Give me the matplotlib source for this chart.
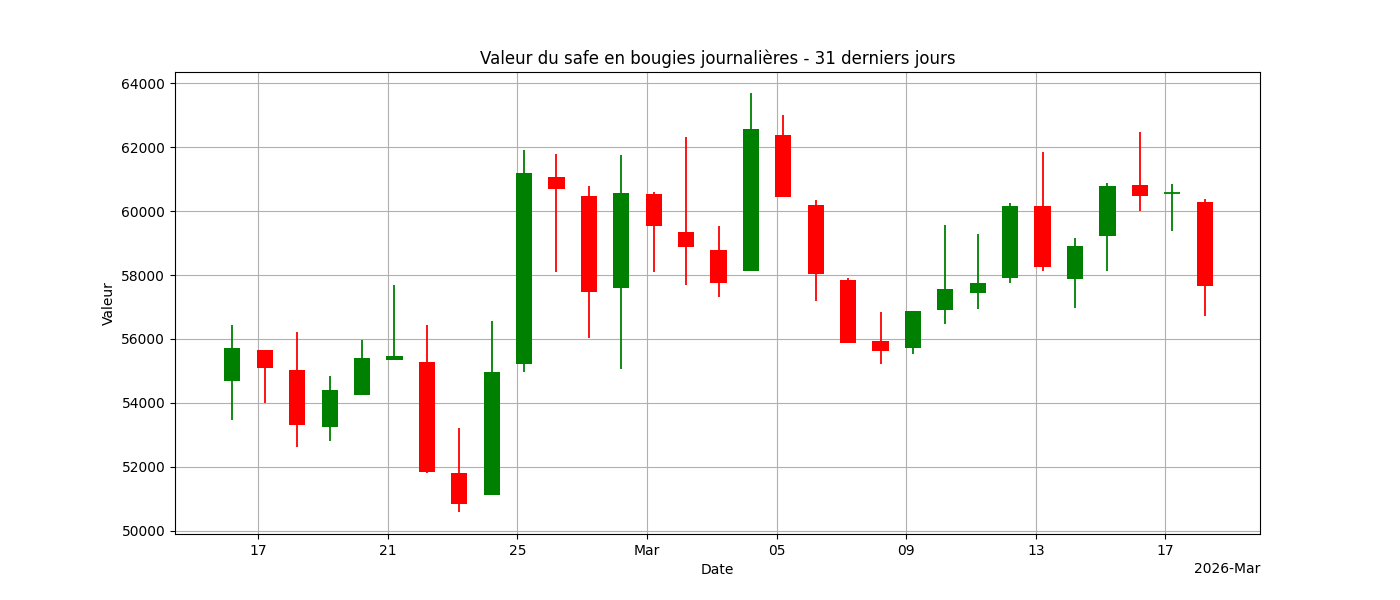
import matplotlib
matplotlib.use("Agg")
import matplotlib.pyplot as plt
import matplotlib.dates as mdates
import pandas as pd

dates = pd.date_range("2026-02-16 05:00", periods=31, freq="D")
opens  = [54688,55656,55031,53250,54250,55344,55281,51812,51125,55219,61062,60469,57594,60531,59344,58781,58125,62375,60187,57844,55937,55719,56906,57437,57906,60156,57875,59219,60812,60562,60281]
closes = [55719,55094,53312,54406,55406,55469,51844,50844,54969,61187,60687,57469,60562,59531,58875,57750,62562,60437,58031,55875,55625,56875,57562,57750,60156,58250,58906,60781,60469,60562,57656]
highs  = [56437,55656,56219,54844,55969,57688,56437,53219,56562,61906,61781,60781,61750,60594,62312,59531,63687,63000,60344,57906,56844,56875,59562,59281,60250,61844,59156,60875,62469,60844,60375]
lows   = [53469,54000,52625,52812,54250,55344,51812,50594,51125,54969,58094,56031,55062,58094,57687,57312,58125,60437,57187,55875,55219,55531,56469,56937,57750,58125,56969,58125,60000,59375,56719]

fig, ax = plt.subplots(figsize=(14, 6), dpi=100)
x = mdates.date2num(dates)
w = 0.5
for xi, o, c, h, l in zip(x, opens, closes, highs, lows):
    col = "green" if c >= o else "red"
    ax.vlines(xi, l, h, color=col, linewidth=1.3, zorder=2)
    if abs(c - o) < 1:
        ax.hlines(o, xi - w / 2, xi + w / 2, color=col, linewidth=1.3, zorder=3)
    else:
        ax.bar(xi, abs(c - o), bottom=min(o, c), width=w, color=col, zorder=3)

loc = mdates.AutoDateLocator()
ax.xaxis.set_major_locator(loc)
ax.xaxis.set_major_formatter(mdates.ConciseDateFormatter(loc))
ax.set_xlim(mdates.date2num(pd.Timestamp("2026-02-14 10:30")), mdates.date2num(pd.Timestamp("2026-03-19 22:00")))
ax.set_ylim(49900, 64350)
ax.grid(True)
ax.set_axisbelow(True)
ax.set_title("Valeur du safe en bougies journalières - 31 derniers jours")
ax.set_xlabel("Date")
ax.set_ylabel("Valeur")
fig.savefig("out.png")
